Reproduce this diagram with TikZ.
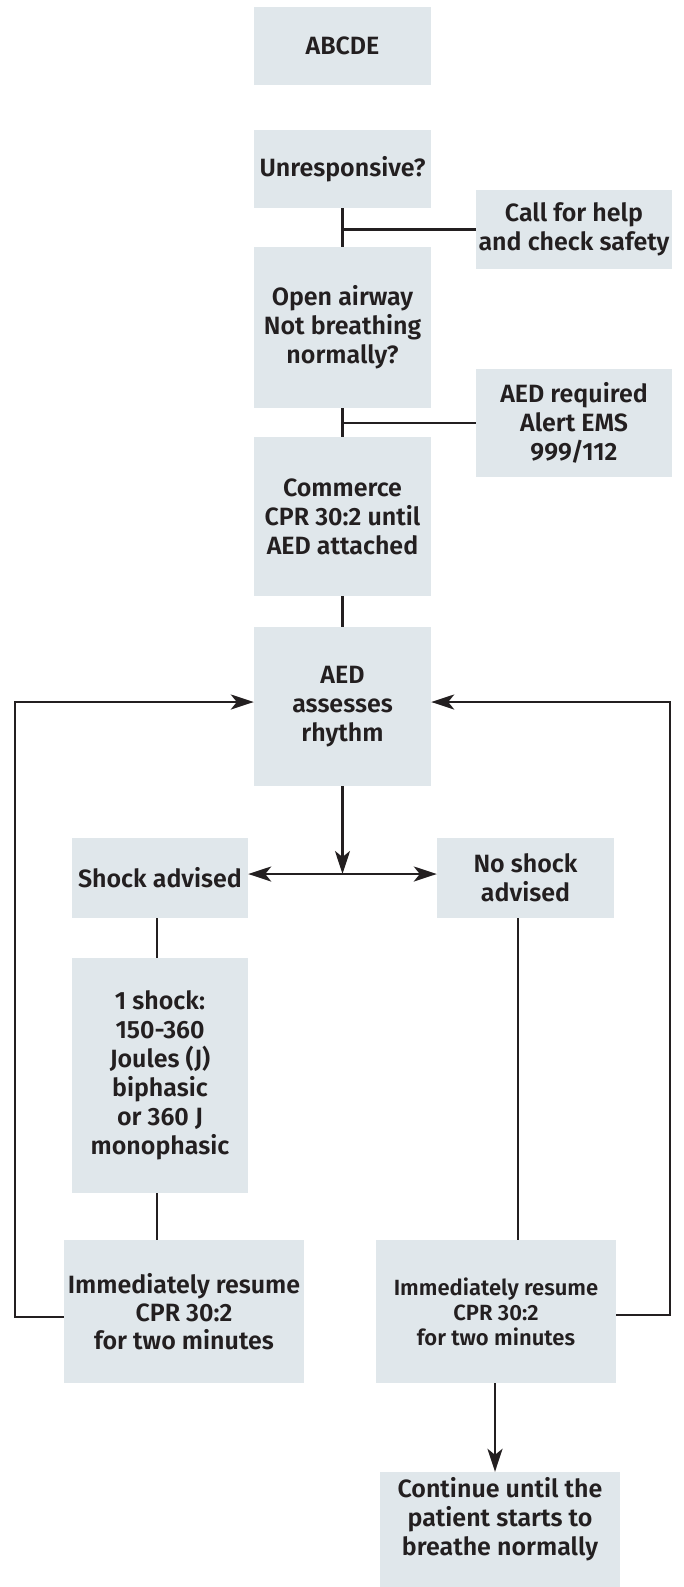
\documentclass[tikz,border=0pt]{standalone}
\usepackage{fontspec}
\setmainfont{Fira Sans}[UprightFont={* SemiBold}, BoldFont={* Bold}]
\usetikzlibrary{arrows.meta}
\definecolor{boxfill}{RGB}{224,231,235}
\definecolor{ink}{RGB}{35,31,32}
\tikzset{
  box/.style={fill=boxfill, draw=none, inner sep=0pt, align=center, text=ink,
    font=\fontsize{25}{29}\selectfont},
  link/.style={draw=ink, line width=2.4pt},
  tip/.tip={Stealth[length=23pt, width=15pt, inset=6pt]},
  arr/.style={link, -tip},
  darr/.style={link, tip-tip}
}
\begin{document}
\begin{tikzpicture}[x=1pt, y=-1pt]
\useasboundingbox (0,0) rectangle (684,1587);

% main column
\node[box, minimum width=177, minimum height=78] (abc) at (342.5,46) {ABCDE};
\node[box, minimum width=177, minimum height=78] (unr) at (342.5,169) {Unresponsive?};
\node[box, minimum width=177, minimum height=161] (open) at (342.5,327.5) {Open airway\\Not breathing\\normally?};
\node[box, minimum width=177, minimum height=159] (comm) at (342.5,516.5) {Commerce\\CPR 30:2 until\\AED attached};
\node[box, minimum width=177, minimum height=159] (aed) at (342.5,706.5) {AED\\assesses\\rhythm};

% side boxes
\node[box, minimum width=196, minimum height=79] (call) at (574,229.5) {Call for help\\and check safety};
\node[box, minimum width=196, minimum height=108] (aedreq) at (574,423) {AED required\\Alert EMS\\999/112};

% branches
\node[box, minimum width=176, minimum height=80] (shock) at (160,878) {Shock advised};
\node[box, minimum width=177, minimum height=80] (noshock) at (525.5,878) {No shock\\advised};
\node[box, minimum width=176, minimum height=235] (one) at (160,1075.5) {1 shock:\\150-360\\Joules (J)\\biphasic\\or 360 J\\monophasic};
\node[box, minimum width=240, minimum height=143, font=\fontsize{25}{28}\selectfont] (resL) at (184,1311.5) {Immediately resume\\CPR 30:2\\for two minutes};
\node[box, minimum width=240, minimum height=143, font=\fontsize{22}{25}\selectfont] (resR) at (496,1311.5) {Immediately resume\\CPR 30:2\\for two minutes};
\node[box, minimum width=240, minimum height=115] (cont) at (500,1529.5) {};
\node[box, fill=none] (conttext) at (500,1519) {Continue until the\\patient starts to\\breathe normally};

% connectors of the main column
\draw[link] (unr.south) -- (open.north);
\draw[link] (call.west) -- (call.west -| unr.south);
\draw[link] (open.south) -- (comm.north);
\draw[link] (aedreq.west) -- (aedreq.west -| open.south);
\draw[link] (comm.south) -- (aed.north);

% rhythm decision
\coordinate (split) at (342.5,874);
\draw[arr] (aed.south) -- (split);
\draw[darr] (shock.east |- split) -- (noshock.west |- split);

% shock branch
\draw[link] ([xshift=-3pt]shock.south) -- ([xshift=-3pt]one.north);
\draw[link] ([xshift=-3pt]one.south) -- ([xshift=-3pt]one.south |- resL.north);

% no-shock branch
\draw[link] ([xshift=-7.5pt]noshock.south) -- ([xshift=-7.5pt]noshock.south |- resR.north);
\draw[arr] ([xshift=-1pt]resR.south) -- ([xshift=-1pt]resR.south |- cont.north);

% loops back to rhythm assessment
\coordinate (lpB) at (15,1317);
\coordinate (lpT) at (15,702);
\coordinate (rpB) at (670,1315);
\coordinate (rpT) at (670,702);
\draw[arr] (resL.west |- lpB) -- (lpB) -- (lpT) -- (aed.west |- lpT);
\draw[arr] (resR.east |- rpB) -- (rpB) -- (rpT) -- (aed.east |- rpT);
\end{tikzpicture}
\end{document}
